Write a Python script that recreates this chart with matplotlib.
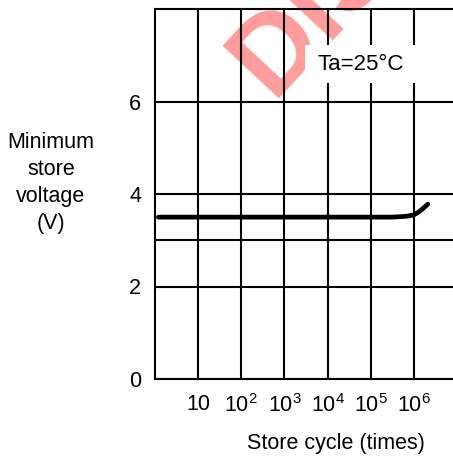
import matplotlib
matplotlib.use("Agg")
import matplotlib.pyplot as plt
from matplotlib.patches import Rectangle

plt.rcParams['font.family'] = ['Liberation Sans', 'DejaVu Sans']
plt.rcParams['mathtext.fontset'] = 'custom'
plt.rcParams['mathtext.rm'] = 'Liberation Sans'
plt.rcParams['mathtext.it'] = 'Liberation Sans'

# Data
cycles = [1.2, 10, 1e2, 1e3, 1e4, 1e5, 3e5, 5e5, 7e5, 1e6, 1.25e6, 1.6e6, 2.1e6]
voltage = [3.5, 3.5, 3.5, 3.5, 3.5, 3.5, 3.5, 3.51, 3.52, 3.55, 3.6, 3.68, 3.78]
xticks = [10, 1e2, 1e3, 1e4, 1e5, 1e6]
xticklabels = ['10', '10$^2$', '10$^3$', '10$^4$', '10$^5$', '10$^6$']
yticks = [0, 2, 3, 4, 6]
yticklabels = ['0', '2', '', '4', '6']

fig = plt.figure(figsize=(4.53, 4.57), dpi=100)
ax = fig.add_axes([155/453, 1-379/457, (457-155)/453, 370/457])

ax.set_xscale('log')
ax.set_xlim(1, 1e7)
ax.set_ylim(0, 8)
ax.set_xticks(xticks)
ax.set_xticklabels(xticklabels)
ax.xaxis.set_minor_locator(matplotlib.ticker.NullLocator())
ax.set_yticks(yticks)
ax.set_yticklabels(yticklabels)
ax.tick_params(axis='both', length=0, labelsize=15.5)
ax.tick_params(axis='x', pad=11)
ax.tick_params(axis='y', pad=10)
ax.set_axisbelow(True)
ax.grid(True, color='black', linewidth=1.5)

for s in ['left', 'bottom', 'top']:
    ax.spines[s].set_linewidth(1.5)
ax.spines['right'].set_visible(False)

# watermark
ax.text(272/453, 1-98/457, 'DISCONTINUED', transform=fig.transFigure,
        rotation=47, rotation_mode='anchor', ha='left', va='baseline',
        fontsize=80, fontweight='bold', color='#ff9c9c', zorder=0.2,
        clip_on=False)

ax.plot(cycles, voltage, color='black', linewidth=3.4, solid_capstyle='round', zorder=4)

ax.add_patch(Rectangle((0.497, 0.80), 0.397, 0.103, transform=ax.transAxes,
                       facecolor='white', edgecolor='none', zorder=3))
ax.text(0.682, 0.835, 'Ta=25°C', transform=ax.transAxes, ha='center',
        va='baseline', fontsize=16, zorder=5)

fig.text(51/453, 1-183/457, 'Minimum\nstore\nvoltage\n(V)', ha='center',
         va='center', fontsize=15.5, linespacing=1.38)
fig.text(336/453, 1-443/457, 'Store cycle (times)', ha='center', va='center',
         fontsize=15.5)

fig.savefig('out.png', dpi=100)
